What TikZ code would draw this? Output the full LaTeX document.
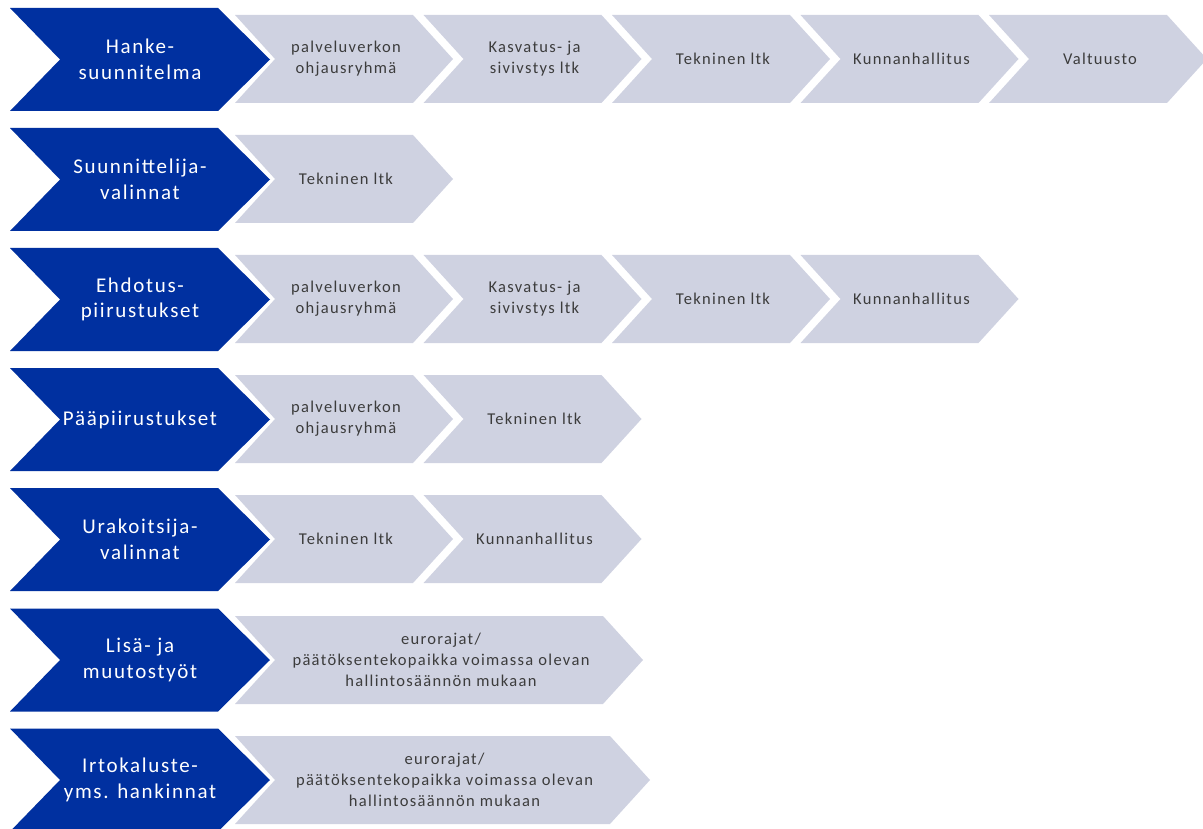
\documentclass[tikz,border=0pt]{standalone}
\usepackage{fontspec}
\newfontfamily\bluefam[LetterSpace=8]{Carlito}
\newfontfamily\greyfam[LetterSpace=8]{Carlito}
\definecolor{chevblue}{RGB}{0,48,160}
\definecolor{chevgrey}{RGB}{207,210,225}
\definecolor{txtgrey}{RGB}{60,60,60}
\tikzset{
  bluefill/.style={fill=chevblue},
  greyfill/.style={fill=chevgrey},
  bluetxt/.style={text=white, align=center, inner sep=0pt, font=\bluefam\fontsize{21}{25.5}\selectfont},
  greytxt/.style={text=txtgrey, align=center, inner sep=0pt, font=\greyfam\fontsize{16.5}{21}\selectfont},
}
% blue chevron: name, y-centre, text
\newcommand{\bluechev}[3]{%
  \fill[bluefill] (10,{#2-51.5}) -- (218,{#2-51.5}) -- (270,#2) -- (218,{#2+51.5}) -- (10,{#2+51.5}) -- (60,#2) -- cycle;
  \node[bluetxt] (#1) at (140,#2) {#3};}
% grey chevron: name, left x, y-centre, width, text
\newcommand{\greychev}[5]{%
  \fill[greyfill] (#2,{#3-44}) -- ({#2+#4-40},{#3-44}) -- ({#2+#4},#3) -- ({#2+#4-40},{#3+44}) -- (#2,{#3+44}) -- ({#2+40},#3) -- cycle;
  \node[greytxt] (#1) at ({#2+#4/2+2},#3) {#5};}
\begin{document}
\begin{tikzpicture}[x=1pt,y=-1pt]
\useasboundingbox (0,0) rectangle (1203,829);
% row 1
\bluechev{b1}{59.5}{Hanke-\\suunnitelma}
\greychev{g11}{235}{59}{218}{palveluverkon\\ohjausryhmä}
\greychev{g12}{423.5}{59}{218}{Kasvatus- ja\\sivivstys ltk}
\greychev{g13}{612}{59}{218}{Tekninen ltk}
\greychev{g14}{800.5}{59}{218}{Kunnanhallitus}
\greychev{g15}{989}{59}{218}{Valtuusto}
% row 2
\bluechev{b2}{179.5}{Suunnittelija-\\valinnat}
\greychev{g21}{235}{179}{218}{Tekninen ltk}
% row 3
\bluechev{b3}{299.5}{Ehdotus-\\piirustukset}
\greychev{g31}{235}{299}{218}{palveluverkon\\ohjausryhmä}
\greychev{g32}{423.5}{299}{218}{Kasvatus- ja\\sivivstys ltk}
\greychev{g33}{612}{299}{218}{Tekninen ltk}
\greychev{g34}{800.5}{299}{218}{Kunnanhallitus}
% row 4
\bluechev{b4}{419.5}{Pääpiirustukset}
\greychev{g41}{235}{419}{218}{palveluverkon\\ohjausryhmä}
\greychev{g42}{423.5}{419}{218}{Tekninen ltk}
% row 5
\bluechev{b5}{539.5}{Urakoitsija-\\valinnat}
\greychev{g51}{235}{539}{218}{Tekninen ltk}
\greychev{g52}{423.5}{539}{218}{Kunnanhallitus}
% row 6
\bluechev{b6}{660}{Lisä- ja\\muutostyöt}
\greychev{g61}{235}{660}{408}{eurorajat/\\päätöksentekopaikka voimassa olevan\\hallintosäännön mukaan}
% row 7
\bluechev{b7}{780}{Irtokaluste-\\yms. hankinnat}
\greychev{g71}{235}{780}{415}{eurorajat/\\päätöksentekopaikka voimassa olevan\\hallintosäännön mukaan}
\end{tikzpicture}
\end{document}
